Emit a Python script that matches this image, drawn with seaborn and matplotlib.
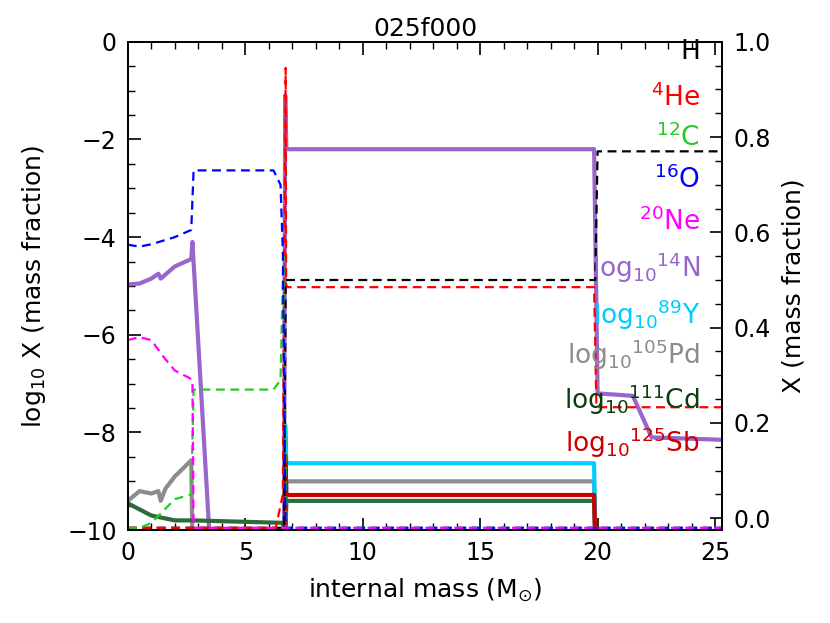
import matplotlib
matplotlib.use("Agg")
import matplotlib.pyplot as plt
import seaborn as sns
import pandas as pd
from matplotlib.ticker import MultipleLocator

# linear mass fractions (right axis), dashed
h_x = [0, 6.65, 6.72, 19.9, 20.0, 25.3]
h_y = [-0.02, -0.02, 0.50, 0.50, 0.77, 0.77]
he_x = [0, 6.3, 6.6, 6.72, 6.74, 6.8, 19.85, 19.95, 25.3]
he_y = [-0.02, -0.02, 0.05, 0.945, 0.49, 0.485, 0.485, 0.233, 0.233]
c_x = [0, 0.5, 1.0, 2.0, 2.7, 2.8, 6.2, 6.5, 6.62, 6.75, 25.3]
c_y = [-0.02, -0.02, -0.01, 0.04, 0.05, 0.27, 0.27, 0.29, 0.55, -0.02, -0.02]
o_x = [0, 0.5, 1.0, 2.0, 2.7, 2.8, 6.2, 6.5, 6.6, 6.72, 25.3]
o_y = [0.574, 0.57, 0.575, 0.59, 0.605, 0.73, 0.73, 0.70, 0.56, -0.02, -0.02]
ne_x = [0, 0.5, 1.0, 1.5, 2.0, 2.6, 2.75, 2.8, 25.3]
ne_y = [0.374, 0.38, 0.374, 0.34, 0.31, 0.295, 0.29, -0.02, -0.02]

# log10 mass fractions (left axis), solid
n_x = [0, 0.5, 1.0, 1.3, 1.4, 2.0, 2.7, 2.75, 3.5, 6.65, 6.7, 6.75, 19.85, 20.0, 21.5, 22.3, 25.3]
n_y = [-4.97, -4.95, -4.85, -4.75, -4.85, -4.6, -4.45, -4.1, -10.3, -10.3, -1.1, -2.2, -2.2, -7.2, -7.25, -8.1, -8.15]
y_x = [6.7, 6.7, 6.75, 19.85, 19.9]
y_y = [-10.2, -7.85, -8.63, -8.63, -10.2]
pd_x = [0, 0.5, 1.0, 1.3, 1.4, 1.6, 2.0, 2.7, 2.75, 6.7, 6.75, 19.85, 19.9]
pd_y = [-9.4, -9.2, -9.25, -9.2, -9.4, -9.15, -8.9, -8.57, -10.2, -10.2, -9.0, -9.0, -10.2]
cd_x = [0, 1.0, 2.0, 2.8, 6.6, 6.7, 6.75, 19.85, 19.9]
cd_y = [-9.45, -9.7, -9.8, -9.8, -9.85, -10.2, -9.4, -9.4, -10.2]
sb_x = [6.7, 6.7, 6.75, 19.85, 19.9]
sb_y = [-10.2, -8.46, -9.28, -9.28, -10.2]

title = "025f000"
labels = [r"H", r"$^{4}$He", r"$^{12}$C", r"$^{16}$O", r"$^{20}$Ne",
          r"log$_{10}$$^{14}$N", r"log$_{10}$$^{89}$Y", r"log$_{10}$$^{105}$Pd",
          r"log$_{10}$$^{111}$Cd", r"log$_{10}$$^{125}$Sb"]
colors = ["black", "red", "#22cc22", "blue", "magenta", "#9966cc", "#00ccff", "#8c8c8c", "#0d3d0d", "#cc0000"]

fig = plt.figure(figsize=(8.3, 6.23), dpi=100)
ax = fig.add_axes([0.154, 0.149, 0.716, 0.784])
ax2 = ax.twinx()

def line(a, xs, ys, col, dashed):
    df = pd.DataFrame({"x": xs, "y": ys})
    sns.lineplot(data=df, x="x", y="y", ax=a, color=col, sort=False, estimator=None,
                 lw=1.6 if dashed else 3.0)
    if dashed:
        a.lines[-1].set_linestyle((0, (4, 2.5)))

line(ax, n_x, n_y, colors[5], False)
line(ax, pd_x, pd_y, colors[7], False)
line(ax, y_x, y_y, colors[6], False)
line(ax, cd_x, cd_y, colors[8], False)
line(ax, sb_x, sb_y, colors[9], False)
ax.lines[3].set_color("#2e6b3a")
for xs, ys, c in [(h_x, h_y, 0), (he_x, he_y, 1), (c_x, c_y, 2), (o_x, o_y, 3), (ne_x, ne_y, 4)]:
    line(ax2, xs, ys, colors[c], True)

ax.set_xlim(0, 25.3)
ax.set_ylim(-10, 0)
ax2.set_ylim(-0.025, 1.0)
ax.set_xlabel(r"internal mass (M$_{\odot}$)", fontsize=18, labelpad=8)
ax.set_ylabel(r"log$_{10}$ X (mass fraction)", fontsize=18, labelpad=14)
ax2.set_ylabel("X (mass fraction)", fontsize=18, labelpad=8)
ax.set_title(title, fontsize=18, pad=4)
ax.xaxis.set_major_locator(MultipleLocator(5))
ax.xaxis.set_minor_locator(MultipleLocator(1))
ax.yaxis.set_major_locator(MultipleLocator(2))
ax.yaxis.set_minor_locator(MultipleLocator(0.5))
ax2.set_yticks([0, 0.2, 0.4, 0.6, 0.8, 1.0])
ax2.set_yticklabels(["0.0", "0.2", "0.4", "0.6", "0.8", "1.0"])
ax2.yaxis.set_minor_locator(MultipleLocator(0.05))
for a in (ax, ax2):
    a.tick_params(which="both", direction="in", labelsize=17, top=False, pad=8)
    a.tick_params(which="major", length=9, width=1.2)
    a.tick_params(which="minor", length=5, width=1.0)
    for s in a.spines.values():
        s.set_linewidth(1.3)
ax.tick_params(axis="x", which="both", top=True)

ys = [52, 98, 138, 180, 222, 268, 315, 355, 400, 443]
for lab, c, yp in zip(labels, colors, ys):
    fig.text(700 / 830, 1 - yp / 623, lab, color=c, fontsize=19, ha="right", va="center")

fig.savefig("out.png", dpi=100)
